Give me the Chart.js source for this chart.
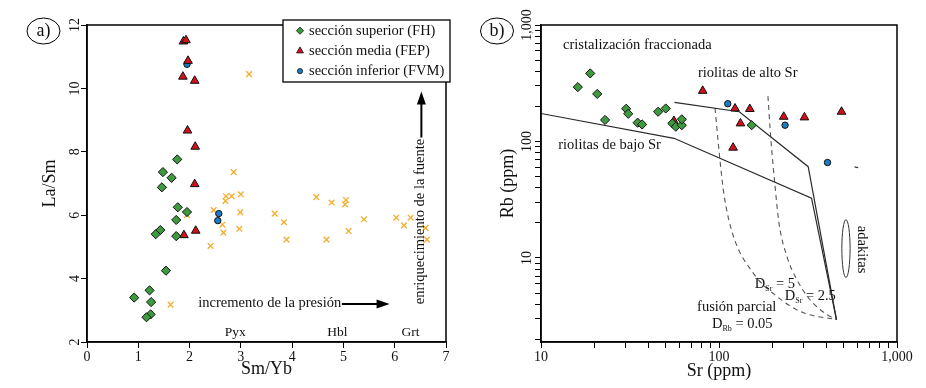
<!DOCTYPE html>
<html>
<head>
<meta charset="utf-8">
<script src="https://cdn.jsdelivr.net/npm/chart.js@4.4.1/dist/chart.umd.min.js"></script>
<style>
    html, body { margin: 0; padding: 0; background: #fff; }
    #wrap { position: relative; width: 926px; height: 388px; overflow: hidden; }
    canvas { position: absolute; top: 0; }
    #chartA { left: 0; }
    #chartB { left: 463px; }
</style>
</head>
<body>
<div id="wrap">
    <canvas id="chartA" width="463" height="388"></canvas>
    <canvas id="chartB" width="463" height="388"></canvas>
</div>
<script>
const FONT = '"Liberation Serif", "Times New Roman", serif';
const INK = '#111';

// ---- a) La/Sm vs Sm/Yb ----
const fhSmYb = [1.76, 1.48, 1.65, 1.46, 1.77, 1.95, 1.74, 1.43, 1.34, 1.74, 1.54, 1.22, 0.92, 1.25, 1.24, 1.16];
const fhLaSm = [7.76, 7.36, 7.18, 6.88, 6.25, 6.10, 5.85, 5.53, 5.40, 5.34, 4.25, 3.63, 3.40, 3.26, 2.87, 2.78];
const fepSmYb = [1.88, 1.93, 1.97, 1.87, 2.10, 1.96, 2.11, 2.10, 2.12, 1.89];
const fepLaSm = [11.48, 11.52, 10.87, 10.37, 10.24, 8.67, 8.16, 6.98, 5.51, 5.37];
const fvmSmYb = [1.95, 2.57, 2.55];
const fvmLaSm = [10.76, 6.05, 5.83];
const meltSmYb = [3.16, 2.86, 2.71, 2.82, 3.00, 2.70, 1.95, 2.47, 2.99, 3.66, 2.64, 2.97, 2.66, 2.41, 1.63,
    4.47, 4.77, 5.05, 5.03, 3.84, 3.89, 4.67, 5.10, 5.40, 6.03, 6.18, 6.31, 6.60, 6.63];
const meltLaSm = [10.45, 7.36, 6.60, 6.60, 6.66, 6.45, 6.00, 6.16, 6.09, 6.05, 5.70, 5.57, 5.45, 5.03, 3.18,
    6.57, 6.40, 6.48, 6.34, 5.78, 5.23, 5.23, 5.50, 5.87, 5.92, 5.68, 5.92, 5.60, 5.23];
const smYbTicks = [0, 1, 2, 3, 4, 5, 6, 7];
const laSmTicks = [2, 4, 6, 8, 10, 12];
const mineralLabels = ['Pyx', 'Hbl', 'Grt'];
const mineralSmYb = [2.89, 4.88, 6.31];

// ---- b) Rb vs Sr ----
const fhSr = [16.1, 18.9, 20.7, 22.9, 30.1, 30.9, 34.9, 37.0, 45.5, 50.2, 54.7, 57.2, 61.8, 61.8, 152.6];
const fhRb = [293, 384, 256, 153, 191, 173, 145, 140, 180, 192, 143, 134, 138, 155, 138];
const fepSr = [55.8, 81, 123, 149, 132, 120, 231, 302, 488];
const fepRb = [150, 272, 192, 190, 143, 88.5, 163, 161, 180];
const fvmSr = [112, 235, 407];
const fvmRb = [211, 138, 66];
const lowSrSr = [10, 55.9, 331, 457];
const lowSrRb = [174, 106.5, 32.6, 2.96];
const highSrSr = [56.2, 130, 317, 457];
const highSrRb = [217, 180, 60.8, 2.96];
const meltD5Sr = [95.0, 98.7, 102.6, 106.7, 119.8, 155.1, 211.5, 295.9, 457];
const meltD5Rb = [194, 103, 57, 34.8, 15.8, 7.48, 4.67, 3.40, 2.96];
const meltD25Sr = [188.3, 195.7, 206.2, 217.1, 240.7, 273.8, 323.8, 403.4, 457];
const meltD25Rb = [245, 103, 42.4, 20.1, 10.3, 6.52, 4.40, 3.27, 2.96];
const strayMarkSr = [578, 605];
const strayMarkRb = [60.5, 59.5];
const adakiteSr = [490, 545];
const adakiteRb = [6.8, 21.3];
const srTicks = [10, 20, 30, 40, 50, 60, 70, 80, 90, 100, 200, 300, 400, 500, 600, 700, 800, 900, 1000];
const rbTicks = [2, 3, 4, 5, 6, 7, 8, 9, 10, 20, 30, 40, 50, 60, 70, 80, 90, 100, 200, 300, 400, 500, 600, 700, 800, 900, 1000];
const logMajor = [10, 100, 1000];
const logMajorLabels = ['10', '100', '1,000'];

function pairs(xs, ys) {
    return xs.map((x, i) => ({ x, y: ys[i] }));
}

const styleFH = { pointStyle: 'rectRot', pointRadius: 4.6, pointBackgroundColor: '#3d9a3d', pointBorderColor: '#111', pointBorderWidth: 1 };
const styleFEP = { pointStyle: 'triangle', pointRadius: 5, pointBackgroundColor: '#d0101a', pointBorderColor: '#111', pointBorderWidth: 1 };
const styleFVM = { pointStyle: 'circle', pointRadius: 3.2, pointBackgroundColor: '#1a7cc4', pointBorderColor: '#111', pointBorderWidth: 1 };

function text(ctx, str, x, y, size, align, angle) {
    ctx.save();
    ctx.translate(x, y);
    if (angle) ctx.rotate(angle);
    ctx.font = size + 'px ' + FONT;
    ctx.fillStyle = INK;
    ctx.textAlign = align || 'center';
    ctx.textBaseline = 'middle';
    ctx.fillText(str, 0, 0);
    ctx.restore();
}

function subText(ctx, runs, x, y, align) {
    ctx.save();
    ctx.fillStyle = INK;
    ctx.textBaseline = 'middle';
    ctx.textAlign = 'left';
    let total = 0;
    runs.forEach(([t, sub]) => {
        ctx.font = (sub ? '8px ' : '14.5px ') + FONT;
        total += ctx.measureText(t).width;
    });
    let cx = align === 'center' ? x - total / 2 : x;
    runs.forEach(([t, sub]) => {
        ctx.font = (sub ? '8px ' : '14.5px ') + FONT;
        ctx.fillText(t, cx, sub ? y + 4 : y);
        cx += ctx.measureText(t).width;
    });
    ctx.restore();
}

function arrow(ctx, x1, y1, x2, y2) {
    const head = 13, half = 4.5;
    const a = Math.atan2(y2 - y1, x2 - x1);
    const c = Math.cos(a), s = Math.sin(a);
    ctx.save();
    ctx.strokeStyle = '#000';
    ctx.fillStyle = '#000';
    ctx.lineWidth = 2;
    ctx.beginPath();
    ctx.moveTo(x1, y1);
    ctx.lineTo(x2 - c * head * 0.8, y2 - s * head * 0.8);
    ctx.stroke();
    ctx.beginPath();
    ctx.moveTo(x2, y2);
    ctx.lineTo(x2 - c * head + s * half, y2 - s * head - c * half);
    ctx.lineTo(x2 - c * head - s * half, y2 - s * head + c * half);
    ctx.closePath();
    ctx.fill();
    ctx.restore();
}

function frame(ctx, area) {
    ctx.save();
    ctx.strokeStyle = '#000';
    ctx.lineWidth = 1.5;
    ctx.strokeRect(area.left, area.top, area.right - area.left, area.bottom - area.top);
    ctx.restore();
}

function panelTag(ctx, str, cx, cy) {
    ctx.save();
    ctx.strokeStyle = '#000';
    ctx.lineWidth = 1;
    ctx.beginPath();
    ctx.ellipse(cx, cy, 16.5, 13, 0, 0, Math.PI * 2);
    ctx.stroke();
    ctx.restore();
    text(ctx, str, cx, cy, 18, 'center');
}

function axisOptions(type, min, max, tickValues, labelFn, fitKey, fitSize) {
    return {
        type,
        min,
        max,
        afterBuildTicks: (scale) => {
            scale.ticks = tickValues.map((v) => ({ value: v }));
        },
        afterFit: (scale) => {
            scale[fitKey] = fitSize;
        },
        grid: { drawOnChartArea: false, drawTicks: true, tickLength: 6, color: '#000', lineWidth: 1 },
        border: { display: true, color: '#000', width: 1.5 },
        ticks: {
            autoSkip: false,
            maxRotation: 0,
            padding: 1,
            color: INK,
            font: { family: FONT, size: 14 },
            callback: labelFn,
        },
    };
}

const panelAPlugin = {
    id: 'panelAPlugin',
    afterDraw(chart) {
        const { ctx, chartArea: area, scales: { x, y } } = chart;
        frame(ctx, area);

        laSmTicks.forEach((v) => text(ctx, String(v), area.left - 12, y.getPixelForValue(v), 14, 'center', -Math.PI / 2));
        text(ctx, 'Sm/Yb', (area.left + area.right) / 2, area.bottom + 27, 18, 'center');
        text(ctx, 'La/Sm', area.left - 37, (area.top + area.bottom) / 2, 18, 'center', -Math.PI / 2);
        panelTag(ctx, 'a)', 43.5, 31);

        mineralLabels.forEach((m, i) => text(ctx, m, x.getPixelForValue(mineralSmYb[i]), y.getPixelForValue(2.29), 13.5, 'center'));

        text(ctx, 'incremento de la presión', x.getPixelForValue(2.17), y.getPixelForValue(3.22), 14.5, 'left');
        arrow(ctx, x.getPixelForValue(4.97), y.getPixelForValue(3.2), x.getPixelForValue(5.9), y.getPixelForValue(3.2));

        text(ctx, 'enriquecimiento de la fuente', x.getPixelForValue(6.5), y.getPixelForValue(5.8), 14.5, 'center', -Math.PI / 2);
        arrow(ctx, x.getPixelForValue(6.52), y.getPixelForValue(8.45), x.getPixelForValue(6.52), y.getPixelForValue(9.9));

        // legend
        ctx.save();
        ctx.fillStyle = '#fff';
        ctx.fillRect(283, 20, 167, 62);
        ctx.strokeStyle = '#000';
        ctx.lineWidth = 1.3;
        ctx.strokeRect(283, 20, 167, 62);
        ctx.restore();
        const entries = [
            ['sección superior (FH)', styleFH, 3.6],
            ['sección media (FEP)', styleFEP, 4],
            ['sección inferior (FVM)', styleFVM, 2.6],
        ];
        entries.forEach(([label, st, r], i) => {
            const cy = 30.7 + i * 20.2;
            ctx.save();
            ctx.fillStyle = st.pointBackgroundColor;
            ctx.strokeStyle = st.pointBorderColor;
            ctx.lineWidth = 0.8;
            Chart.helpers.drawPoint(ctx, { pointStyle: st.pointStyle, radius: r, borderWidth: 0.8 }, 300, cy);
            ctx.restore();
            text(ctx, label, 309, cy, 14.5, 'left');
        });
    },
};

const panelBPlugin = {
    id: 'panelBPlugin',
    beforeDatasetsDraw(chart) {
        const { ctx, scales: { x, y } } = chart;
        const x0 = x.getPixelForValue(adakiteSr[0]);
        const x1 = x.getPixelForValue(adakiteSr[1]);
        const yTop = y.getPixelForValue(adakiteRb[1]);
        const yBot = y.getPixelForValue(adakiteRb[0]);
        ctx.save();
        ctx.strokeStyle = '#333';
        ctx.lineWidth = 1;
        ctx.beginPath();
        ctx.ellipse((x0 + x1) / 2, (yTop + yBot) / 2, (x1 - x0) / 2, (yBot - yTop) / 2, 0, 0, Math.PI * 2);
        ctx.stroke();
        ctx.restore();
    },
    afterDraw(chart) {
        const { ctx, chartArea: area, scales: { x, y } } = chart;
        frame(ctx, area);

        logMajor.forEach((v, i) => text(ctx, logMajorLabels[i], area.left - 14, y.getPixelForValue(v), 14, 'center', -Math.PI / 2));
        text(ctx, 'Sr (ppm)', (area.left + area.right) / 2, area.bottom + 29, 18, 'center');
        text(ctx, 'Rb (ppm)', area.left - 33, (area.top + area.bottom) / 2, 18, 'center', -Math.PI / 2);
        panelTag(ctx, 'b)', 34, 31);

        text(ctx, 'cristalización fraccionada', x.getPixelForValue(13.3), y.getPixelForValue(670), 14.5, 'left');
        text(ctx, 'riolitas de alto Sr', x.getPixelForValue(76.2), y.getPixelForValue(386), 14.5, 'left');
        text(ctx, 'riolitas de bajo Sr', x.getPixelForValue(12.5), y.getPixelForValue(93.3), 14.5, 'left');
        text(ctx, 'fusión parcial', x.getPixelForValue(75.3), y.getPixelForValue(3.75), 14.5, 'left');
        subText(ctx, [['D', false], ['Rb', true], [' = 0.05', false]], x.getPixelForValue(91.3), y.getPixelForValue(2.69), 'left');
        subText(ctx, [['D', false], ['Sr', true], [' = 5', false]], x.getPixelForValue(159), y.getPixelForValue(5.9), 'left');
        subText(ctx, [['D', false], ['Sr', true], [' = 2.5', false]], x.getPixelForValue(234), y.getPixelForValue(4.67), 'left');
        text(ctx, 'adakitas', x.getPixelForValue(631), y.getPixelForValue(11.8), 14.5, 'center', Math.PI / 2);
    },
};

function lineSet(xs, ys, dashed) {
    return {
        data: pairs(xs, ys),
        showLine: true,
        pointRadius: 0,
        borderColor: dashed ? '#555' : '#2a2a2a',
        borderWidth: dashed ? 1.1 : 1.2,
        borderDash: dashed ? [5, 4] : [],
        cubicInterpolationMode: dashed ? 'monotone' : 'default',
        tension: 0,
    };
}

new Chart(document.getElementById('chartA'), {
    type: 'scatter',
    data: {
        datasets: [
            { label: 'sección superior (FH)', data: pairs(fhSmYb, fhLaSm), ...styleFH },
            { label: 'sección media (FEP)', data: pairs(fepSmYb, fepLaSm), ...styleFEP },
            { label: 'sección inferior (FVM)', data: pairs(fvmSmYb, fvmLaSm), ...styleFVM },
            {
                label: 'fundidos',
                data: pairs(meltSmYb, meltLaSm),
                pointStyle: 'crossRot',
                pointRadius: 4,
                pointBorderColor: '#f2ad2e',
                pointBorderWidth: 1.3,
            },
        ],
    },
    options: {
        responsive: false,
        animation: false,
        layout: { padding: { left: 0, right: 17, top: 25, bottom: 0 } },
        plugins: { legend: { display: false }, tooltip: { enabled: false } },
        scales: {
            x: axisOptions('linear', 0, 7, smYbTicks, (v) => String(v), 'height', 46),
            y: axisOptions('linear', 2, 12, laSmTicks, () => '', 'width', 87),
        },
    },
    plugins: [panelAPlugin],
});

new Chart(document.getElementById('chartB'), {
    type: 'scatter',
    data: {
        datasets: [
            { label: 'sección superior (FH)', data: pairs(fhSr, fhRb), ...styleFH },
            { label: 'sección media (FEP)', data: pairs(fepSr, fepRb), ...styleFEP },
            { label: 'sección inferior (FVM)', data: pairs(fvmSr, fvmRb), ...styleFVM },
            lineSet(lowSrSr, lowSrRb, false),
            lineSet(highSrSr, highSrRb, false),
            lineSet(meltD5Sr, meltD5Rb, true),
            lineSet(meltD25Sr, meltD25Rb, true),
            lineSet(strayMarkSr, strayMarkRb, false),
        ],
    },
    options: {
        responsive: false,
        animation: false,
        layout: { padding: { left: 0, right: 29, top: 25, bottom: 0 } },
        plugins: { legend: { display: false }, tooltip: { enabled: false } },
        scales: {
            x: axisOptions('logarithmic', 10, 1000, srTicks, (v) => {
                const i = logMajor.indexOf(v);
                return i >= 0 ? logMajorLabels[i] : '';
            }, 'height', 46),
            y: axisOptions('logarithmic', 1.9, 1000, rbTicks, () => '', 'width', 78),
        },
    },
    plugins: [panelBPlugin],
});
</script>
</body>
</html>
